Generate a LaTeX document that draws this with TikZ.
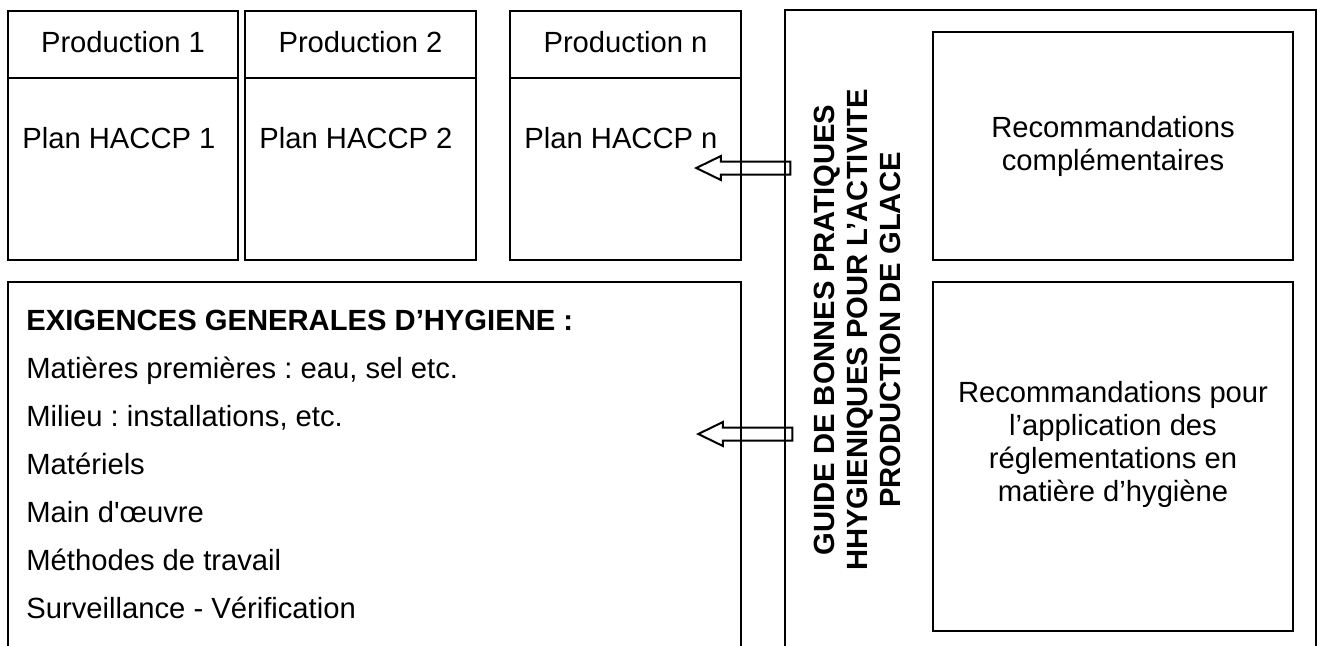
\documentclass[tikz,border=0pt]{standalone}
\usepackage{fontspec}
\setmainfont{Liberation Sans}
\usetikzlibrary{positioning,shapes.arrows}

\tikzset{
  box/.style={draw, line width=1pt, rectangle, inner sep=0pt, outer sep=0pt, anchor=north west},
  lbl/.style={inner sep=0pt, anchor=base},
  item/.style={inner sep=0pt},
  hollow/.style={draw, line width=1pt, single arrow, shape border rotate=180,
    inner sep=2.75pt, single arrow head extend=2.75pt, single arrow tip angle=52,
    minimum height=47pt, anchor=tip},
}

\begin{document}
\frenchspacing
\fontsize{14.6pt}{16.5pt}\selectfont
\begin{tikzpicture}[x=0.5pt, y=-0.5pt]
  \useasboundingbox (0,0) rectangle (1318,645);
  \clip (0,0) rectangle (1318,645);

  % productions et plans HACCP
  \node[box, minimum width=115pt, minimum height=124.5pt] (p1) at (8,11) {};
  \node[box, minimum width=115.5pt, minimum height=124.5pt, right=3.5pt of p1] (p2) {};
  \node[box, minimum width=115.5pt, minimum height=124.5pt, right=17pt of p2] (p3) {};

  \foreach \i/\n in {1/1, 2/2, 3/n} {
    \draw[line width=0.8pt] ([yshift=-33.5pt]p\i.north west) -- ([yshift=-33.5pt]p\i.north east);
    \node[lbl] (h\i) at ([yshift=-20.75pt]p\i.north) {Production \n};
    \node[lbl, anchor=base west] (c\i) at ([xshift=7pt, yshift=-68.75pt]p\i.north west) {Plan HACCP \n};
  }

  % exigences generales
  \node[box, minimum width=366.5pt, minimum height=190pt] (eg) at (8,282) {};
  \node[item, anchor=base west, font=\bfseries] (e0) at (26,330) {EXIGENCES GENERALES D’HYGIENE :};
  \node[item, below=24pt of e0.base west, anchor=base west] (e1) {Matières premières : eau, sel etc.};
  \node[item, below=24pt of e1.base west, anchor=base west] (e2) {Milieu : installations, etc.};
  \node[item, below=24pt of e2.base west, anchor=base west] (e3) {Matériels};
  \node[item, below=24pt of e3.base west, anchor=base west] (e4) {Main d\textquotesingle œuvre};
  \node[item, below=24pt of e4.base west, anchor=base west] (e5) {Méthodes de travail};
  \node[item, below=24pt of e5.base west, anchor=base west] (e6) {Surveillance - Vérification};

  % guide
  \node[box, minimum width=265.5pt, minimum height=330pt] (gbp) at (785,10) {};
  \node[item, rotate=90, align=center, font=\bfseries] (gt) at (857,330)
    {GUIDE DE BONNES PRATIQUES\\HHYGIENIQUES POUR L’ACTIVITE\\PRODUCTION DE GLACE};
  \node[box, minimum width=180pt, minimum height=114pt, align=center] (rc) at (933,32)
    {Recommandations\\complémentaires};
  \node[box, minimum width=180pt, minimum height=174.5pt] (rr) at (933,282) {};
  \node[item, align=center] (rrt) at ([yshift=6pt]rr.center)
    {Recommandations pour\\l’application des\\réglementations en\\matière d’hygiène};

  % fleches
  \node[hollow] (fa) at (694,168) {};
  \node[hollow] (fb) at (696,434) {};
\end{tikzpicture}
\end{document}
